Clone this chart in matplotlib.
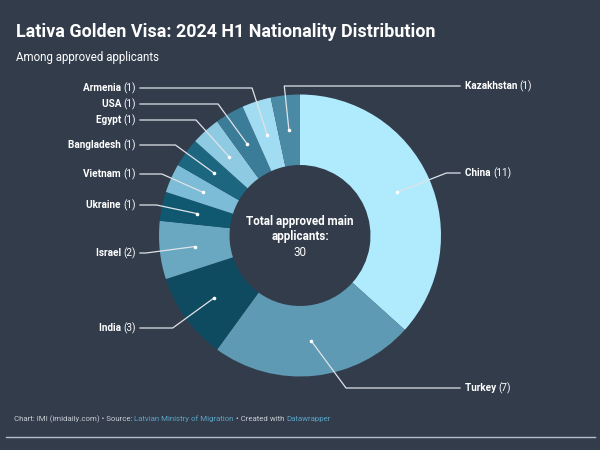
import numpy as np
import matplotlib
matplotlib.use('Agg')
import matplotlib.pyplot as plt

plt.rcParams['font.family'] = ['Roboto', 'DejaVu Sans']

countries = ['China', 'Turkey', 'India', 'Israel', 'Ukraine', 'Vietnam',
             'Bangladesh', 'Egypt', 'USA', 'Armenia', 'Kazakhstan']
counts = [11, 7, 3, 2, 1, 1, 1, 1, 1, 1, 1]
colors = ['#b0ebfd', '#5e9ab3', '#0e4b61', '#6aa8c2', '#0f5870', '#7cbcd7',
          '#1c6680', '#8fcae3', '#3b7d98', '#a2dcf2', '#4a8aa5']
# label layout (pixels): side and vertical position of each label
sides = ['r', 'r', 'l', 'l', 'l', 'l', 'l', 'l', 'l', 'l', 'r']
label_y = [173, 388, 328, 253, 205, 174, 145, 120, 104, 88, 86]
knee_shift = [6, 30, 0, 0, 0, 0, 0, 0, -6, 0, 0]

bg = '#323c4b'
fig = plt.figure(figsize=(6, 4.5), dpi=100, facecolor=bg)
ax = fig.add_axes([0, 0, 1, 1])
ax.set_facecolor(bg)

cx, cy, R = 300, 235.5, 141
wedges, _ = ax.pie(counts, colors=colors, center=(cx, cy), radius=R,
                   startangle=-90, counterclock=True, frame=True,
                   wedgeprops=dict(width=R * 0.5, linewidth=0))
ax.set_xlim(0, 600)
ax.set_ylim(450, 0)
ax.set_aspect('equal')
ax.axis('off')

line_c = '#dfe3e8'
for w, name, n, side, ly, ks in zip(wedges, countries, counts, sides, label_y, knee_shift):
    mid = np.deg2rad((w.theta1 + w.theta2) / 2)
    rd = R * 0.75
    dx_, dy_ = cx + rd * np.cos(mid), cy + rd * np.sin(mid)
    s = np.sin(mid)
    t = (ly - dy_) / s if abs(s) > 1e-6 else 0
    kx = dx_ + t * np.cos(mid) + ks
    if side == 'l':
        kx = min(max(kx, 146), dx_)
        ax.plot([140, kx, dx_], [ly, ly, dy_], color=line_c, lw=0.9)
        tv = ax.text(136, ly, f'({n})', ha='right', va='center',
                     color='white', fontsize=7.2)
        ax.annotate(name + ' ', xy=(0, 0.5), xycoords=tv, ha='right', va='center',
                    color='white', fontsize=7.2, fontweight='bold')
    else:
        ax.plot([460, kx, dx_], [ly, ly, dy_], color=line_c, lw=0.9)
        tn = ax.text(465, ly, name + ' ', ha='left', va='center',
                     color='white', fontsize=7.2, fontweight='bold')
        ax.annotate(f'({n})', xy=(1, 0.5), xycoords=tn, ha='left', va='center',
                    color='white', fontsize=7.2)
    ax.plot(dx_, dy_, 'o', color='white', ms=2.6, mec='none')

ax.text(cx, 229, 'Total approved main\napplicants:', ha='center', va='center',
        color='white', fontsize=8.4, fontweight='bold', linespacing=1.25)
ax.text(cx, 252, str(sum(counts)), ha='center', va='center', color='white', fontsize=8.4)

ax.text(16, 32, 'Lativa Golden Visa: 2024 H1 Nationality Distribution', ha='left',
        va='center', color='white', fontsize=12.9, fontweight='bold')
ax.text(16, 57, 'Among approved applicants', ha='left', va='center',
        color='white', fontsize=8.3)

# footer
grey, link = '#c8cdd4', '#5ba3c4'
parts = [('Chart: IMI (imidaily.com) • Source: ', grey), ('Latvian Ministry of Migration', link),
         (' • Created with ', grey), ('Datawrapper', link)]
prev = None
for txt, c in parts:
    if prev is None:
        prev = ax.text(14, 419, txt, ha='left', va='center', color=c, fontsize=5.7)
    else:
        prev = ax.annotate(txt, xy=(1, 0.5), xycoords=prev, ha='left', va='center',
                           color=c, fontsize=5.7)
ax.plot([6, 595], [437, 437], color='#b8bec6', lw=1)

fig.savefig('out.png', dpi=100, facecolor=bg)
